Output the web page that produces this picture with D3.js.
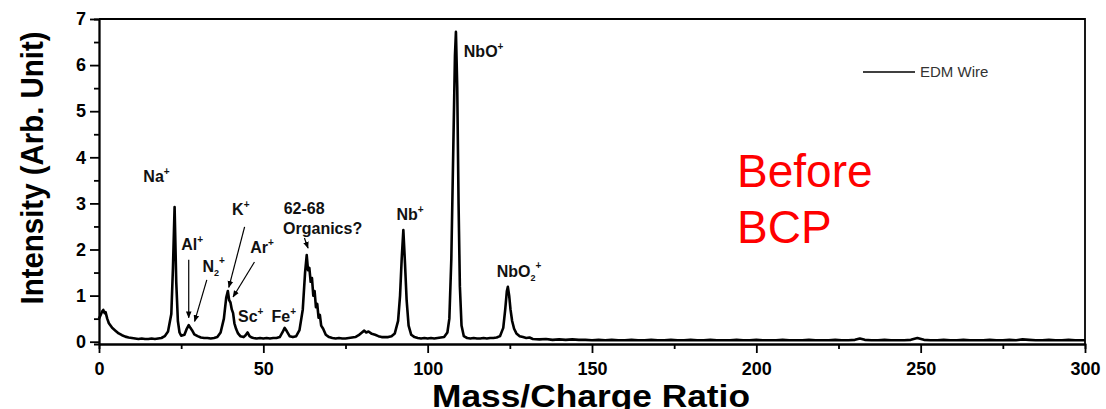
<!DOCTYPE html>
<html>
<head>
<meta charset="utf-8">
<script src="https://cdn.jsdelivr.net/npm/d3@7"></script>
<style>
  body { margin: 0; background: #fff; }
  svg { display: block; font-family: "Liberation Sans", Arial, sans-serif; }
  .tick text { font-weight: bold; font-size: 18px; fill: #000; }
  .domain, .tick line { stroke: #000; stroke-width: 1.8px; }
</style>
</head>
<body>
<div id="chart"></div>
<script>
// Spectrum data
var massCharge = [0, 0.5, 1, 1.3, 1.7, 2, 2.5, 3, 4, 5, 6, 7, 8, 9, 10, 11, 12, 13, 14, 15, 16, 17, 18, 19, 20,
  21, 22, 22.5, 23, 23.5, 24, 24.5, 25, 26, 26.7, 27.3, 27.8, 28.3, 29, 30, 31, 32, 33, 34, 35, 36, 37, 38,
  38.7, 39.2, 39.6, 40, 40.4, 40.8, 41.2, 41.7, 42.3, 43, 44, 44.6, 45.2, 45.8, 46.5, 47, 48, 49, 50, 51, 52,
  53, 54, 55, 55.8, 56.5, 57.2, 58, 59, 60, 61, 62, 62.7, 63.2, 63.6, 64, 64.4, 64.8, 65.2, 65.6, 66, 66.4,
  66.8, 67.2, 67.6, 68.2, 69, 70, 71, 72, 73, 74, 75, 76, 77, 78, 79, 80, 80.7, 81.3, 82, 83, 84, 85, 86, 87,
  88, 89, 90, 91, 91.6, 92.1, 92.6, 93.1, 93.6, 94.2, 95, 96, 97, 98, 99, 100, 101, 102, 103, 104, 105, 106,
  106.6, 107.2, 107.8, 108.3, 108.6, 109, 109.4, 109.8, 110.3, 111, 112, 113, 114, 115, 116, 117, 118, 119,
  120, 121, 122, 123, 123.6, 124.1, 124.4, 124.8, 125.2, 125.7, 126.3, 127, 128, 129, 130, 131, 132, 134,
  136, 138, 140, 142, 144, 146, 148, 150, 152, 154, 156, 158, 160, 162, 164, 166, 168, 170, 172, 174, 176,
  178, 180, 182, 184, 186, 188, 190, 192, 194, 196, 198, 200, 202, 204, 206, 208, 210, 212, 214, 216, 218,
  220, 222, 224, 226, 228, 230, 231.5, 233, 235, 237, 239, 241, 243, 245, 247, 249, 251, 253, 255, 257, 259,
  261, 263, 265, 267, 269, 271, 273, 275, 277, 279, 281, 283, 285, 287, 289, 291, 293, 295, 297, 300];

var intensity = [0.50, 0.58, 0.66, 0.69, 0.62, 0.64, 0.50, 0.40, 0.30, 0.24, 0.18, 0.14, 0.11, 0.09, 0.08, 0.07, 0.06, 0.07, 0.06, 0.06, 0.07, 0.06, 0.07, 0.08, 0.12,
  0.22, 0.60, 1.60, 2.92, 1.30, 0.45, 0.20, 0.13, 0.15, 0.28, 0.36, 0.30, 0.25, 0.16, 0.12, 0.09, 0.08, 0.08, 0.07, 0.08, 0.10, 0.20, 0.50,
  0.95, 1.10, 0.90, 0.85, 0.70, 0.62, 0.40, 0.28, 0.18, 0.12, 0.10, 0.14, 0.20, 0.12, 0.09, 0.08, 0.07, 0.08, 0.07, 0.08, 0.07,
  0.08, 0.08, 0.10, 0.20, 0.30, 0.22, 0.12, 0.10, 0.12, 0.25, 0.70, 1.50, 1.88, 1.55, 1.60, 1.30, 1.38, 1.00, 1.10, 0.75, 0.82,
  0.52, 0.58, 0.35, 0.28, 0.15, 0.10, 0.08, 0.07, 0.08, 0.07, 0.07, 0.08, 0.09, 0.10, 0.14, 0.20, 0.24, 0.20, 0.22, 0.17, 0.15, 0.12, 0.10, 0.10,
  0.10, 0.12, 0.18, 0.45, 1.00, 1.80, 2.42, 1.70, 0.90, 0.35, 0.15, 0.10, 0.08, 0.07, 0.08, 0.07, 0.08, 0.07, 0.08, 0.09, 0.10, 0.20,
  0.50, 1.80, 4.20, 6.20, 6.72, 5.50, 3.00, 1.20, 0.35, 0.12, 0.08, 0.07, 0.08, 0.07, 0.07, 0.08, 0.07, 0.08,
  0.08, 0.09, 0.12, 0.30, 0.70, 1.10, 1.19, 1.00, 0.70, 0.45, 0.28, 0.18, 0.12, 0.10, 0.08, 0.09, 0.06, 0.05,
  0.06, 0.04, 0.05, 0.04, 0.05, 0.04, 0.04, 0.03, 0.04, 0.03, 0.04, 0.03, 0.03, 0.04, 0.03, 0.03, 0.04, 0.03, 0.03, 0.04, 0.03,
  0.03, 0.04, 0.03, 0.03, 0.04, 0.03, 0.03, 0.03, 0.04, 0.03, 0.03, 0.04, 0.03, 0.03, 0.03, 0.04, 0.03, 0.03, 0.03, 0.04, 0.03,
  0.03, 0.03, 0.04, 0.03, 0.03, 0.04, 0.07, 0.04, 0.03, 0.03, 0.04, 0.03, 0.03, 0.03, 0.04, 0.08, 0.04, 0.03, 0.03, 0.04, 0.03,
  0.03, 0.04, 0.03, 0.03, 0.03, 0.04, 0.03, 0.03, 0.04, 0.03, 0.05, 0.04, 0.03, 0.03, 0.04, 0.03, 0.03, 0.04, 0.03, 0.03, 0.03];

var xTicks = [0, 50, 100, 150, 200, 250, 300];
var xMinorTicks = [25, 75, 125, 175, 225, 275];
var yTicks = [0, 1, 2, 3, 4, 5, 6, 7];
var yMinorTicks = [0.5, 1.5, 2.5, 3.5, 4.5, 5.5, 6.5];

// peak labels: text, optional subscript, anchor position in data units
var peakNames = ["Na", "Al", "N", "K", "Ar", "Sc", "Fe", "Nb", "NbO", "NbO"];
var peakSubs = ["", "", "2", "", "", "", "", "", "", "2"];
var peakX = [13.5, 25, 31.5, 40.5, 46, 42.3, 52.5, 90.5, 111, 121];
var peakY = [3.47, 1.99, 1.51, 2.74, 1.92, 0.43, 0.43, 2.64, 6.17, 1.41];

// arrows [fromX, fromY, toX, toY] in data units
var arrowLines = [
  [27.3, 1.78, 27.3, 0.52],
  [32.8, 1.34, 29.1, 0.44],
  [44.3, 2.49, 39.5, 1.18],
  [47.3, 1.73, 40.8, 0.97],
  [62.5, 2.25, 63.6, 2.03]
];

var svgWidth = 1106;
var svgHeight = 409;

var svg = d3.select("#chart")
  .append("svg")
  .attr("width", svgWidth)
  .attr("height", svgHeight);

var xScale = d3.scaleLinear()
  .domain([0, 300])
  .range([99, 1085]);

var yScale = d3.scaleLinear()
  .domain([-0.05, 7])
  .range([344, 19]);

svg.append("defs").append("marker")
  .attr("id", "head")
  .attr("viewBox", "0 0 10 10")
  .attr("refX", 9)
  .attr("refY", 5)
  .attr("markerWidth", 7)
  .attr("markerHeight", 7)
  .attr("markerUnits", "userSpaceOnUse")
  .attr("orient", "auto")
  .append("path")
  .attr("d", "M0,1L10,5L0,9z")
  .attr("fill", "#000");

// frame
svg.append("path")
  .attr("d", `M${xScale(0)},${yScale(7)}H${xScale(300)}V${yScale(-0.05)}`)
  .attr("fill", "none")
  .attr("stroke", "#000")
  .attr("stroke-width", 1.8);

// axes
svg.append("g")
  .attr("transform", `translate(0, ${yScale(-0.05)})`)
  .call(d3.axisBottom(xScale).tickValues(xMinorTicks).tickSize(5).tickFormat(""));

svg.append("g")
  .attr("transform", `translate(0, ${yScale(-0.05)})`)
  .call(d3.axisBottom(xScale).tickValues(xTicks).tickSizeInner(9).tickSizeOuter(0).tickPadding(9).tickFormat(d3.format("d")));

svg.append("g")
  .attr("transform", `translate(${xScale(0)}, 0)`)
  .call(d3.axisLeft(yScale).tickValues(yMinorTicks).tickSize(5).tickFormat(""));

svg.append("g")
  .attr("transform", `translate(${xScale(0)}, 0)`)
  .call(d3.axisLeft(yScale).tickValues(yTicks).tickSizeInner(9).tickSizeOuter(0).tickPadding(4).tickFormat(d3.format("d")));

// spectrum line
var line = d3.line()
  .x((d, i) => xScale(massCharge[i]))
  .y(d => yScale(d));

svg.append("path")
  .datum(intensity)
  .attr("d", line)
  .attr("fill", "none")
  .attr("stroke", "#000")
  .attr("stroke-width", 2.6)
  .attr("stroke-linejoin", "round");

// arrows
svg.selectAll(".arrow")
  .data(arrowLines)
  .enter()
  .append("line")
  .attr("class", "arrow")
  .attr("x1", d => xScale(d[0]))
  .attr("y1", d => yScale(d[1]))
  .attr("x2", d => xScale(d[2]))
  .attr("y2", d => yScale(d[3]))
  .attr("stroke", "#000")
  .attr("stroke-width", 1.2)
  .attr("marker-end", "url(#head)");

// peak labels
var labels = svg.selectAll(".peak")
  .data(peakNames)
  .enter()
  .append("text")
  .attr("class", "peak")
  .attr("x", (d, i) => xScale(peakX[i]))
  .attr("y", (d, i) => yScale(peakY[i]))
  .attr("font-size", "16px")
  .attr("font-weight", "bold")
  .attr("fill", "#111");

labels.append("tspan").text(d => d);
labels.each(function(d, i) {
  var t = d3.select(this);
  if (peakSubs[i]) {
    t.append("tspan").attr("font-size", "9px").attr("dy", 4).text(peakSubs[i]);
    t.append("tspan").attr("font-size", "10px").attr("dy", -12).text("+");
  } else {
    t.append("tspan").attr("font-size", "10px").attr("dy", -7).text("+");
  }
});

svg.append("text")
  .attr("x", xScale(56.2))
  .attr("y", yScale(2.77))
  .attr("font-size", "16px")
  .attr("font-weight", "bold")
  .attr("fill", "#111")
  .text("62-68");

svg.append("text")
  .attr("x", xScale(56.0))
  .attr("y", yScale(2.34))
  .attr("font-size", "16px")
  .attr("font-weight", "bold")
  .attr("fill", "#111")
  .text("Organics?");

// legend
svg.append("line")
  .attr("x1", 863)
  .attr("x2", 915)
  .attr("y1", 72)
  .attr("y2", 72)
  .attr("stroke", "#000")
  .attr("stroke-width", 1.6);

svg.append("text")
  .attr("x", 920)
  .attr("y", 77)
  .attr("font-size", "15px")
  .attr("fill", "#333")
  .text("EDM Wire");

// annotation
svg.append("text")
  .attr("x", 737)
  .attr("y", 187)
  .attr("font-size", "46px")
  .attr("fill", "#ff0000")
  .text("Before");

svg.append("text")
  .attr("x", 737)
  .attr("y", 243)
  .attr("font-size", "46px")
  .attr("fill", "#ff0000")
  .text("BCP");

// axis titles
svg.append("text")
  .attr("transform", "translate(43, 168) rotate(-90)")
  .attr("text-anchor", "middle")
  .attr("font-size", "32px")
  .attr("font-weight", "bold")
  .attr("textLength", 273)
  .attr("lengthAdjust", "spacingAndGlyphs")
  .text("Intensity (Arb. Unit)");

svg.append("text")
  .attr("x", 591)
  .attr("y", 407)
  .attr("text-anchor", "middle")
  .attr("font-size", "32px")
  .attr("font-weight", "bold")
  .attr("textLength", 318)
  .attr("lengthAdjust", "spacingAndGlyphs")
  .text("Mass/Charge Ratio");
</script>
</body>
</html>
